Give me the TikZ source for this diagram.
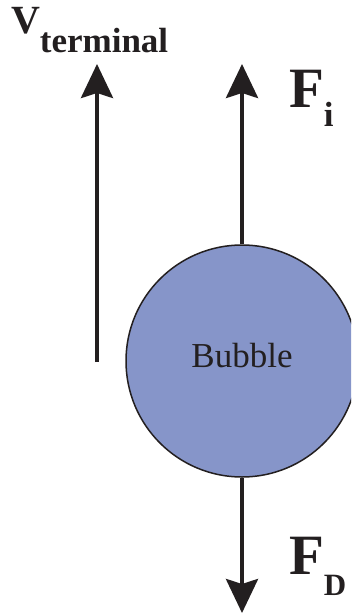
\documentclass[tikz,border=0pt]{standalone}
\usepackage{fontspec}
\setmainfont{Liberation Serif}
\usetikzlibrary{arrows.meta}
\definecolor{ink}{RGB}{35,31,32}
\definecolor{bubblefill}{RGB}{134,149,201}
\tikzset{
  force/.style={draw=ink, line width=4pt, -{Stealth[length=34pt, width=32pt, inset=5pt]}},
  lbl/.style={inner sep=0pt, outer sep=0pt, anchor=base west, text=ink, font=\bfseries},
}
\newcommand{\bigtxt}{\fontsize{57}{60}\selectfont}
\newcommand{\subtxt}{\fontsize{35}{37}\selectfont}
\begin{document}
\begin{tikzpicture}[x=1pt,y=-1pt]
\useasboundingbox (0,0) rectangle (351,615);
\clip (0,0) rectangle (351,615);
\node[circle, draw=ink, line width=1.5pt, fill=bubblefill, minimum size=232pt, inner sep=0pt,
      text=ink, font=\fontsize{35}{38}\selectfont] (bubble) at (242,361) {};
\node[inner sep=0pt, anchor=base, text=ink, font=\fontsize{35}{38}\selectfont] (btext) at (242,367) {Bubble};
\coordinate (vtop) at (97,64);
\coordinate (vbot) at (97,362);
\coordinate (fitop) at (242,64);
\coordinate (fdbot) at (242,613);
\draw[force] (vbot) -- (vtop);
\draw[force] (bubble.north) -- (fitop);
\draw[force] (bubble.south) -- (fdbot);
\node[lbl, font=\bfseries\fontsize{40}{42}\selectfont] (vlab) at (11,34) {V\raisebox{-19pt}{\subtxt terminal}};
\node[lbl] (filab) at (289,107) {\bigtxt F\raisebox{-20pt}{\subtxt i}};
\node[lbl] (fdlab) at (289,574) {\bigtxt F\raisebox{-21pt}{\fontsize{31}{33}\selectfont D}};
\end{tikzpicture}
\end{document}
